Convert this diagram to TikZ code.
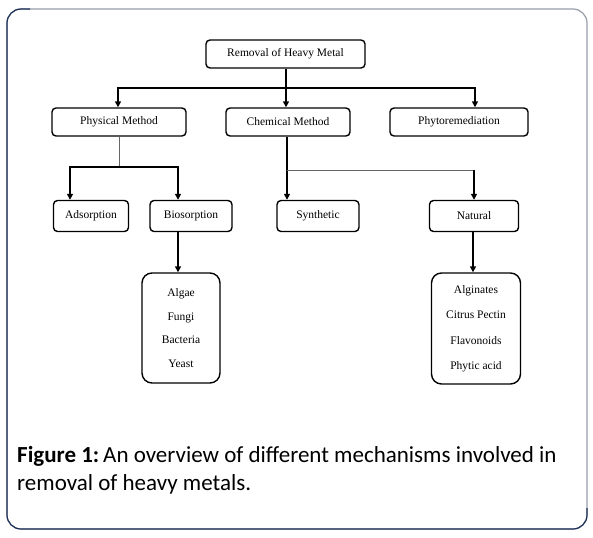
\documentclass[tikz,border=0pt]{standalone}
\usepackage{fontspec}
\setmainfont{Liberation Serif}
\newfontfamily\capfont{Carlito}
\usepackage{tikz}
\usetikzlibrary{arrows.meta}

\definecolor{framegrey}{RGB}{150,158,170}
\definecolor{framenavy}{RGB}{30,50,90}

\begin{document}
\begin{tikzpicture}[
  x=1pt, y=-1pt, font=\fontsize{11.5}{13.5}\selectfont,
  box/.style    = {draw=black, line width=1.4pt, rounded corners=4pt,
                   align=center, inner sep=2pt, minimum height=28pt},
  lst/.style    = {box, rounded corners=10pt, minimum width=78pt,
                   minimum height=110pt},
  ar/.style     = {-{Triangle[length=6pt,width=6pt]}, line width=1.8pt},
  ln/.style     = {line width=1.8pt},
  thinln/.style = {draw=black!60, line width=0.7pt},
  captxt/.style = {anchor=base west, inner sep=0pt,
                   font=\capfont\fontsize{23}{26}\selectfont},
]
  \useasboundingbox (0,0) rectangle (593,537);

  % ---- frame ------------------------------------------------
  \draw[framegrey, line width=1.2pt, rounded corners=14pt]
    (7,9) rectangle (587,529);
  \draw[framenavy, line width=1.2pt, rounded corners=14pt]
    (30,9) -- (7,9) -- (7,529) -- (587,529) -- (587,508);

  % ---- top level --------------------------------------------
  \node[box, minimum width=159pt] (rm) at (285.5, 54) {Removal of Heavy Metal};

  % ---- methods ----------------------------------------------
  \node[box, minimum width=134pt] (ph) at (119, 122) {Physical Method};
  \node[box, minimum width=124pt] (ch) at (288, 122) {Chemical Method};
  \node[box, minimum width=138pt] (py) at (459, 122) {Phytoremediation};

  % ---- sub methods ------------------------------------------
  \node[box, minimum width=75pt, minimum height=31pt] (ad) at ( 91, 216) {Adsorption};
  \node[box, minimum width=82pt, minimum height=31pt] (bi) at (191, 216) {Biosorption};
  \node[box, minimum width=82pt, minimum height=31pt] (sy) at (318, 216) {Synthetic};
  \node[box, minimum width=89pt, minimum height=31pt] (na) at (474, 216) {Natural};

  % ---- lists ------------------------------------------------
  \node[lst] (bio) at (181, 328)
    {Algae\\[10pt] Fungi\\[10pt] Bacteria\\[10pt] Yeast};
  \node[lst, minimum width=89pt, minimum height=111pt] (nat) at (476, 328.5)
    {Alginates\\[12pt] Citrus Pectin\\[12pt] Flavonoids\\[12pt] Phytic acid};

  % ---- arrows -----------------------------------------------
  \coordinate (j0) at (286, 88);
  \draw[ln] (rm.south -| j0) -- (j0);
  \draw[ar] (j0) -| (ph.north -| 118,0);
  \draw[ar] (j0) -- (ch.north -| j0);
  \draw[ar] (j0) -| (py.north -| 475,0);

  \coordinate (j1) at (119, 167);
  \draw[thinln] (ph.south) -- (j1);
  \draw[ar] (j1) -| (ad.north -| 70,0);
  \draw[ar] (j1) -| (bi.north -| 178,0);

  \coordinate (j2) at (287, 170);
  \coordinate (j3) at (474, 170);
  \draw[ar] (ch.south -| j2) -- (sy.north -| j2);
  \draw[thinln] (j2) -- (j3);
  \draw[ar] (j3) -- (na.north -| j3);

  \draw[ar] (bi.south -| 178,0) -- (bio.north -| 178,0);
  \draw[ar] (na.south -| 473,0) -- (nat.north -| 473,0);

  % ---- caption ----------------------------------------------
  \node[captxt] (c1) at (17, 462)
    {\textbf{Figure 1:}\,An overview of different mechanisms involved in};
  \node[captxt] (c2) at (17, 490) {removal of heavy metals.};

\end{tikzpicture}
\end{document}
